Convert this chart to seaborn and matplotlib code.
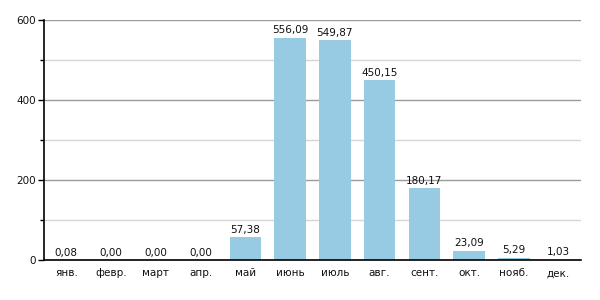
import matplotlib
matplotlib.use("Agg")
import matplotlib.pyplot as plt
import seaborn as sns
import pandas as pd
from matplotlib.ticker import MultipleLocator

months = ["янв.", "февр.", "март", "апр.", "май", "июнь", "июль", "авг.", "сент.", "окт.", "нояб.", "дек."]
values = [0.08, 0.00, 0.00, 0.00, 57.38, 556.09, 549.87, 450.15, 180.17, 23.09, 5.29, 1.03]

sns.set_theme(style="white")
plt.rcParams['font.family'] = ['DejaVu Sans']

df = pd.DataFrame({"month": months, "value": values})

fig = plt.figure(figsize=(6, 3), dpi=100)
ax = fig.add_axes([0.0733, 0.1333, 0.895, 0.80])

ax.set_axisbelow(True)
sns.barplot(data=df, x="month", y="value", color="#97CBE4", saturation=1, width=0.7,
            linewidth=0, ax=ax)

ax.set_ylim(0, 600)
ax.set_xlim(-0.5, 11.5)
ax.yaxis.set_major_locator(MultipleLocator(200))
ax.yaxis.set_minor_locator(MultipleLocator(100))
ax.grid(axis="y", which="major", color="#9a9a9a", linewidth=1)
ax.grid(axis="y", which="minor", color="#d6d6d6", linewidth=1)
ax.grid(axis="x", visible=False)

for s in ["top", "right"]:
    ax.spines[s].set_visible(False)
ax.spines["left"].set_color("black")
ax.spines["bottom"].set_color("black")
ax.spines["left"].set_linewidth(1.2)
ax.spines["bottom"].set_linewidth(1.2)

ax.tick_params(axis="y", which="major", left=True, length=4, width=1, color="black", labelsize=7.5, pad=2, labelcolor="#111111")
ax.tick_params(axis="y", which="minor", left=True, length=3, width=1, color="black")
ax.tick_params(axis="x", bottom=False, labelsize=7.5, pad=0, labelcolor="#111111")
ax.set_xlabel("")
ax.set_ylabel("")

for i, v in enumerate(values):
    ax.text(i, v + 6, f"{v:.2f}".replace(".", ","), ha="center", va="bottom", fontsize=7.5, color="#111111")

fig.savefig("out.png", dpi=100)
